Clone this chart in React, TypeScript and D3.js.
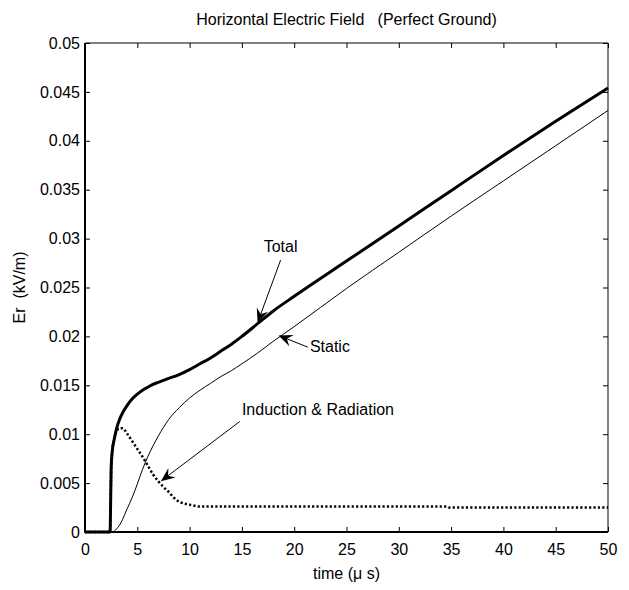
import React, { useEffect, useRef } from 'react';
import * as d3 from 'd3';

// time in microseconds, field in kV/m
const timeUs = [0, 2.4, 2.45, 2.5, 2.6, 2.8, 3.0, 3.3, 3.6, 4.0, 4.5, 5.0, 5.5, 6.0, 6.5, 7.0, 7.5, 8.0, 9.0, 10, 11, 12, 13, 14, 15, 16.5, 18, 20, 25, 30, 35, 40, 45, 50];

const totalField = [0, 0, 0.003, 0.0065, 0.0082, 0.0095, 0.0105, 0.0115, 0.0122, 0.0129, 0.0136, 0.0141, 0.0145, 0.0148, 0.0151, 0.0153, 0.0155, 0.0157, 0.0161, 0.0166, 0.0172, 0.0178, 0.0185, 0.0192, 0.0200, 0.0213, 0.0226, 0.0241, 0.0277, 0.0313, 0.0349, 0.0385, 0.0420, 0.0454];

const staticField = [0, 0, 0, 0, 0, 0.0001, 0.0003, 0.0007, 0.0013, 0.0023, 0.0035, 0.0049, 0.0064, 0.0077, 0.0088, 0.0098, 0.0107, 0.0115, 0.0127, 0.0137, 0.0145, 0.0152, 0.0159, 0.0165, 0.0172, 0.0183, 0.0195, 0.0210, 0.0249, 0.0286, 0.0323, 0.0359, 0.0395, 0.0431];

const inductionTime = [0, 2.4, 2.45, 2.5, 2.6, 2.8, 3.0, 3.3, 3.6, 4.0, 4.5, 5.0, 5.5, 6.0, 6.5, 7.0, 7.5, 8.0, 8.5, 9.0, 10, 11, 12, 15, 20, 25, 30, 34.6, 34.8, 40, 45, 50];
const inductionField = [0, 0, 0.003, 0.0065, 0.0082, 0.0095, 0.0103, 0.0106, 0.0106, 0.0101, 0.0093, 0.0085, 0.0077, 0.0068, 0.0059, 0.0052, 0.0046, 0.0041, 0.0035, 0.0031, 0.0028, 0.0026, 0.0026, 0.0026, 0.0026, 0.0026, 0.0026, 0.0026, 0.0025, 0.0025, 0.0025, 0.0025];

const xTicks = [0, 5, 10, 15, 20, 25, 30, 35, 40, 45, 50];
const xTickLabels = ['0', '5', '10', '15', '20', '25', '30', '35', '40', '45', '50'];
const yTicks = [0, 0.005, 0.01, 0.015, 0.02, 0.025, 0.03, 0.035, 0.04, 0.045, 0.05];
const yTickLabels = ['0', '0.005', '0.01', '0.015', '0.02', '0.025', '0.03', '0.035', '0.04', '0.045', '0.05'];

// annotations: label, text anchor point, arrow tail, arrow tip (data units)
const annotations = [
  { label: 'Total', text: [18.7, 0.0286], anchor: 'middle', tail: [18.7, 0.0278], tip: [16.5, 0.0214] },
  { label: 'Static', text: [21.5, 0.0184], anchor: 'start', tail: [21.3, 0.0189], tip: [18.5, 0.0201] },
  { label: 'Induction & Radiation', text: [15.0, 0.0120], anchor: 'start', tail: [14.8, 0.0113], tip: [7.25, 0.0052] },
];

const FONT = '"Liberation Sans", Arial, Helvetica, sans-serif';

const App = () => {
  const svgRef = useRef<SVGSVGElement>(null);

  useEffect(() => {
    if (!svgRef.current) return;
    const svg = d3.select(svgRef.current);
    svg.selectAll('*').remove();

    const left = 85, right = 608, top = 43, bottom = 532;

    const x = d3.scaleLinear().domain([0, 50]).range([left, right]);
    const y = d3.scaleLinear().domain([0, 0.05]).range([bottom, top]);

    svg.append('rect').attr('width', 629).attr('height', 590).attr('fill', '#fff');

    // axes with inward ticks on all four sides
    const styleAxis = (g) => {
      g.select('.domain').remove();
      g.selectAll('line').attr('stroke', '#000').attr('stroke-width', 1);
      g.selectAll('text').attr('font-family', FONT).attr('font-size', 16).attr('fill', '#000');
    };

    svg.append('g')
      .attr('transform', `translate(0,${bottom})`)
      .call(d3.axisBottom(x).tickValues(xTicks).tickSizeInner(-5).tickSizeOuter(0).tickPadding(12)
        .tickFormat((d, i) => xTickLabels[i]))
      .call(styleAxis);

    svg.append('g')
      .attr('transform', `translate(0,${top})`)
      .call(d3.axisTop(x).tickValues(xTicks).tickSizeInner(-5).tickSizeOuter(0).tickFormat(() => ''))
      .call(styleAxis);

    svg.append('g')
      .attr('transform', `translate(${left},0)`)
      .call(d3.axisLeft(y).tickValues(yTicks).tickSizeInner(-5).tickSizeOuter(0).tickPadding(5)
        .tickFormat((d, i) => yTickLabels[i]))
      .call(styleAxis);

    svg.append('g')
      .attr('transform', `translate(${right},0)`)
      .call(d3.axisRight(y).tickValues(yTicks).tickSizeInner(-5).tickSizeOuter(0).tickFormat(() => ''))
      .call(styleAxis);

    // box
    svg.append('line').attr('x1', left).attr('x2', right).attr('y1', top).attr('y2', top)
      .attr('stroke', '#000').attr('stroke-width', 1);
    svg.append('line').attr('x1', right).attr('x2', right).attr('y1', top).attr('y2', bottom)
      .attr('stroke', '#000').attr('stroke-width', 1);
    svg.append('line').attr('x1', left).attr('x2', left).attr('y1', top).attr('y2', bottom + 1)
      .attr('stroke', '#000').attr('stroke-width', 2);
    svg.append('line').attr('x1', left - 1).attr('x2', right).attr('y1', bottom).attr('y2', bottom)
      .attr('stroke', '#000').attr('stroke-width', 2);

    const plot = svg.append('g');

    const lineOf = (ts, vs) => d3.line<number>()
      .x((d, i) => x(ts[i]))
      .y(d => y(d))
      .curve(d3.curveMonotoneX)(vs);

    plot.append('path')
      .attr('d', lineOf(timeUs, staticField))
      .attr('fill', 'none').attr('stroke', '#000').attr('stroke-width', 1);

    plot.append('path')
      .attr('d', lineOf(inductionTime, inductionField))
      .attr('fill', 'none').attr('stroke', '#000').attr('stroke-width', 2.5)
      .attr('stroke-dasharray', '2.2,2.2');

    plot.append('path')
      .attr('d', lineOf(timeUs, totalField))
      .attr('fill', 'none').attr('stroke', '#000').attr('stroke-width', 3)
      .attr('stroke-linejoin', 'round');

    // annotations with arrows
    annotations.forEach(a => {
      const [tx, ty] = [x(a.tail[0]), y(a.tail[1])];
      const [hx, hy] = [x(a.tip[0]), y(a.tip[1])];
      const ang = Math.atan2(hy - ty, hx - tx);
      const len = 14, half = 6, notch = 9;
      const ux = Math.cos(ang), uy = Math.sin(ang);
      const px = -uy, py = ux;
      const b1 = [hx - ux * len + px * half, hy - uy * len + py * half];
      const b2 = [hx - ux * len - px * half, hy - uy * len - py * half];
      const n = [hx - ux * notch, hy - uy * notch];

      svg.append('line')
        .attr('x1', tx).attr('y1', ty).attr('x2', n[0]).attr('y2', n[1])
        .attr('stroke', '#000').attr('stroke-width', 1);
      svg.append('path')
        .attr('d', `M${hx},${hy}L${b1[0]},${b1[1]}L${n[0]},${n[1]}L${b2[0]},${b2[1]}Z`)
        .attr('fill', '#000');
      svg.append('text')
        .attr('x', x(a.text[0])).attr('y', y(a.text[1]))
        .attr('text-anchor', a.anchor)
        .attr('font-family', FONT).attr('font-size', 16)
        .text(a.label);
    });

    // titles
    svg.append('text')
      .attr('x', (left + right) / 2).attr('y', 25)
      .attr('text-anchor', 'middle')
      .attr('font-family', FONT).attr('font-size', 16)
      .style('white-space', 'pre')
      .text('Horizontal Electric Field   (Perfect Ground)');

    svg.append('text')
      .attr('x', (left + right) / 2).attr('y', 579)
      .attr('text-anchor', 'middle')
      .attr('font-family', FONT).attr('font-size', 16)
      .style('white-space', 'pre')
      .text('time (\u03bc s)');

    svg.append('text')
      .attr('transform', `translate(25,${(top + bottom) / 2}) rotate(-90)`)
      .attr('text-anchor', 'middle')
      .attr('font-family', FONT).attr('font-size', 16)
      .style('white-space', 'pre')
      .text('Er  (kV/m)');
  }, []);

  return (
    <svg
      ref={svgRef}
      width={629}
      height={590}
      style={{ position: 'absolute', left: 0, top: 0, display: 'block' }}
    />
  );
};

export default App;
